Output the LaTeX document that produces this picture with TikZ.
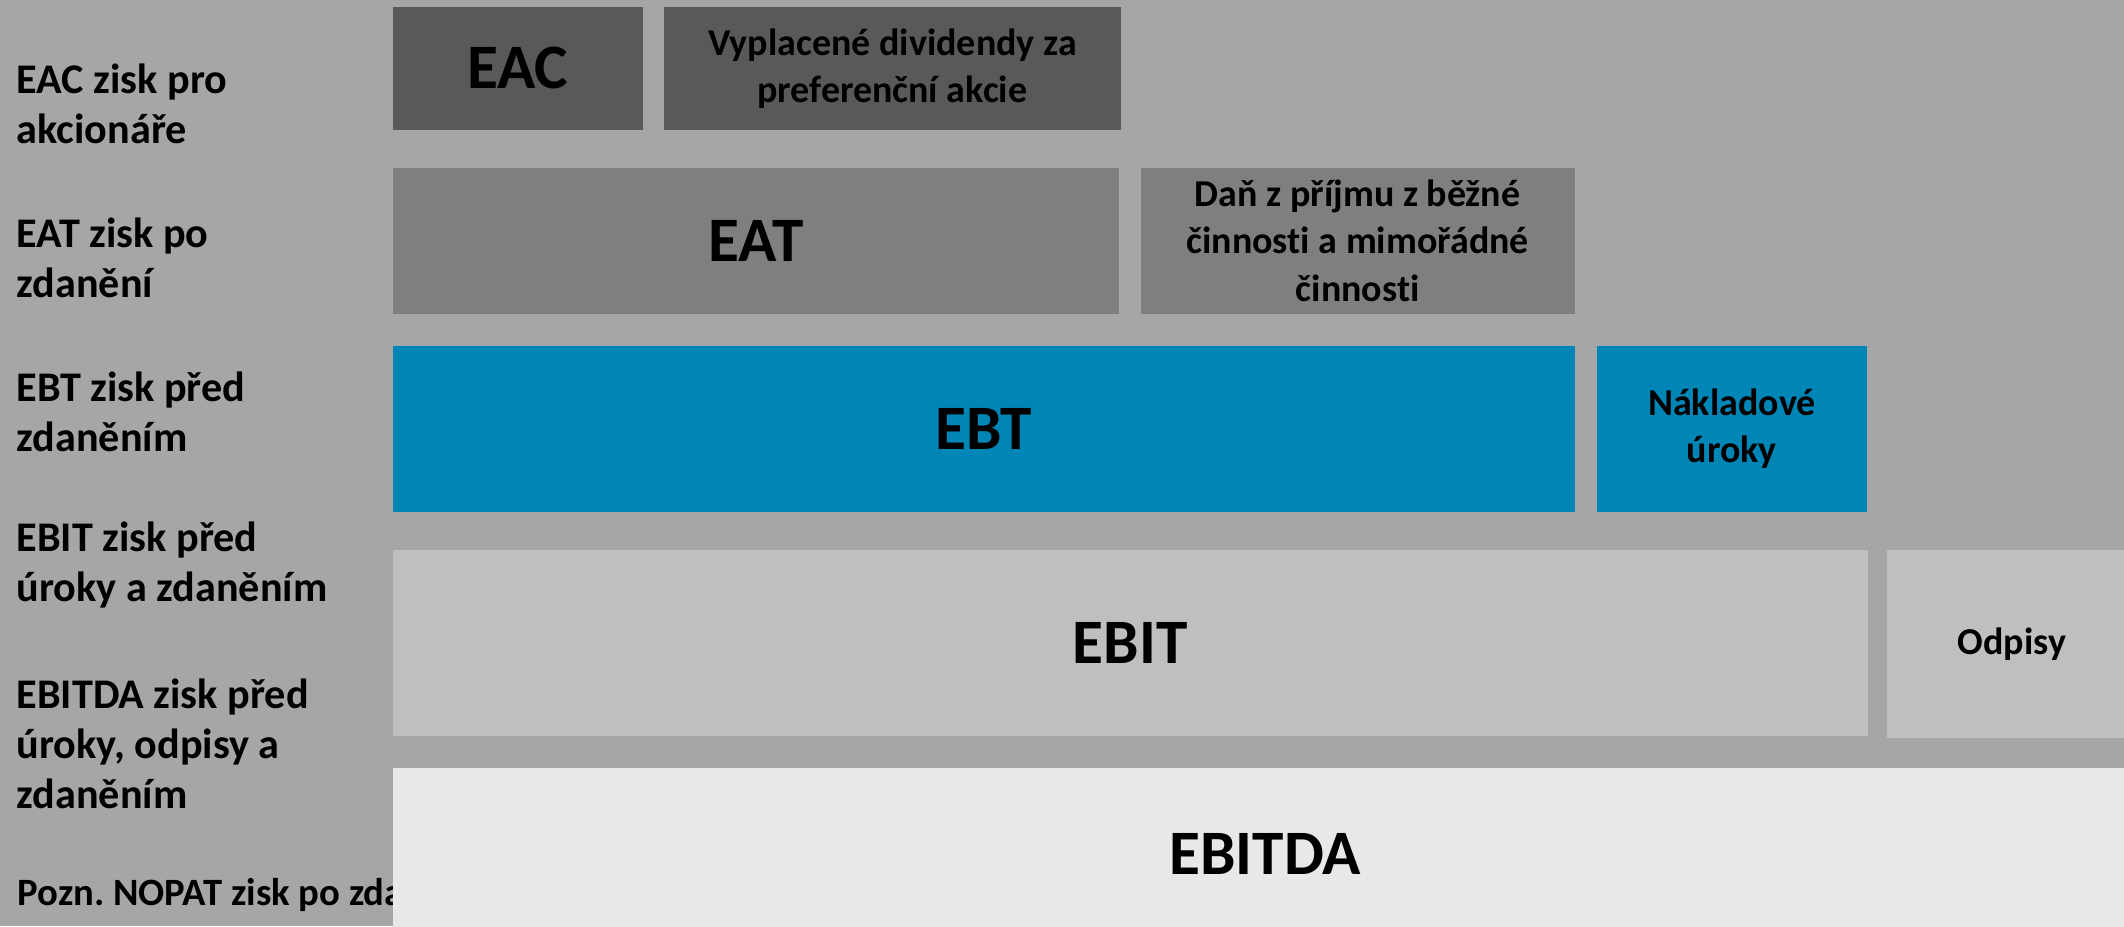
\documentclass[tikz,border=0pt]{standalone}
\usepackage{fontspec}
\setmainfont{Carlito}[Ligatures=NoCommon]
\usepackage{tikz}
\usetikzlibrary{positioning}
\frenchspacing

\definecolor{bggray}{HTML}{A6A6A6}
\definecolor{eacgray}{HTML}{595959}
\definecolor{eatgray}{HTML}{7F7F7F}
\definecolor{ebtblue}{HTML}{0086B6}
\definecolor{ebitgray}{HTML}{BFBFBF}
\definecolor{ebitdagray}{HTML}{E8E8E8}

\begin{document}
\begin{tikzpicture}[
  x=0.01cm, y=-0.01cm,
  lbl/.style={anchor=west, align=left, inner sep=0pt, font=\fontsize{12}{14.3}\selectfont\bfseries},
  blk/.style={anchor=north west, inner sep=0pt, align=center},
  big/.style={blk, font=\fontsize{18}{21}\selectfont\bfseries},
  small/.style={blk, font=\fontsize{10.8}{13.4}\selectfont\bfseries}
]
% Background
\fill[bggray] (0,0) rectangle (2124,926);
\useasboundingbox (0,0) rectangle (2124,926);

% Left column: names of the levels
\node[lbl] (leac) at (16,104) {EAC zisk pro\\akcionáře};
\node[lbl] (leat) at (16,258) {EAT zisk po\\zdanění};
\node[lbl] (lebt) at (16,412) {EBT zisk před\\zdaněním};
\node[lbl] (lebit) at (16,565) {EBIT zisk před\\úroky a zdaněním};
\node[lbl] (lebitda) at (16,744) {EBITDA zisk před\\úroky, odpisy a\\zdaněním};
\node[lbl, font=\fontsize{11}{13.4}\selectfont\bfseries] (lnopat) at (17,895) {Pozn. NOPAT zisk po zdanění};

% Row 1: EAC
\node[big, fill=eacgray, minimum width=2.50cm, minimum height=1.23cm] (eac) at (392,6) {EAC};
\node[small, fill=eacgray, minimum width=4.56cm, minimum height=1.23cm, right=0.20cm of eac] (div) {Vyplacené dividendy za\\preferenční akcie};

% Row 2: EAT
\node[big, fill=eatgray, minimum width=7.26cm, minimum height=1.46cm] (eat) at (392,167) {EAT};
\node[small, fill=eatgray, minimum width=4.34cm, minimum height=1.46cm, right=0.20cm of eat] (dan) {Daň z příjmu z běžné\\činnosti a mimořádné\\činnosti};

% Row 3: EBT
\node[big, fill=ebtblue, minimum width=11.82cm, minimum height=1.66cm] (ebt) at (392,345) {EBT};
\node[small, fill=ebtblue, minimum width=2.70cm, minimum height=1.66cm, right=0.20cm of ebt] (urok) {Nákladové\\úroky};

% Row 4: EBIT
\node[big, fill=ebitgray, minimum width=14.74cm, minimum height=1.86cm] (ebit) at (392,549) {EBIT};
\node[small, fill=ebitgray, minimum width=2.50cm, minimum height=1.88cm, anchor=north west] (odpisy) at (1886,549) {Odpisy};

% Row 5: EBITDA
\node[big, fill=ebitdagray, minimum width=17.44cm, minimum height=1.72cm] (ebitda) at (392,767) {EBITDA};

\end{tikzpicture}
\end{document}
